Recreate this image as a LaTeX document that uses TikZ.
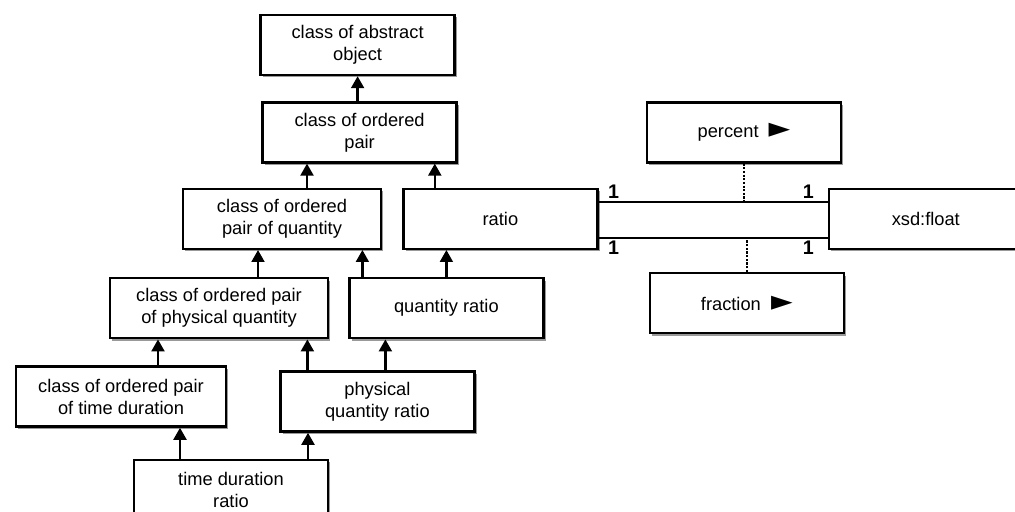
\documentclass[tikz,border=0pt]{standalone}
\usepackage{fontspec}
\setmainfont{Liberation Sans}
\newfontfamily\symbfont{DejaVu Sans}
\newcommand\pointer{{\fontsize{20}{20}\selectfont\symbfont ►}}
\usetikzlibrary{arrows.meta,positioning,shadows}

\begin{document}
\begin{tikzpicture}[
    font=\fontsize{13}{15.6}\selectfont,
    every node/.style = {align=center},
    cls/.style    = {draw, rectangle, line width=1.7pt, fill=white,
                     minimum width=48.5mm, minimum height=15mm, inner sep=2pt,
                     drop shadow={shadow xshift=0.6mm, shadow yshift=-0.6mm,
                                  fill=black!40, opacity=1}},
    arr/.style    = {-{Triangle[width=3.2mm,length=3mm]}, line width=1.8pt},
    assoc/.style  = {line width=1.2pt},
    link/.style   = {densely dotted, line width=1.6pt},
    mult/.style   = {font=\fontsize{14}{14}\selectfont\bfseries, inner sep=2pt},
]
\useasboundingbox (0,0) rectangle (253.75mm,-127.75mm);

% ---------------- Upper hierarchy ----------------
\node[cls] (absobj) at (89.4mm,-11.25mm) {class of abstract\\object};
\node[cls, below=6.25mm of absobj, xshift=0.5mm] (pair) {class of ordered\\pair};
\node[cls, below=6mm of pair, xshift=-19.4mm, minimum width=49.5mm] (pairqty) {class of ordered\\pair of quantity};
\node[cls, right=5mm of pairqty] (ratio) {ratio};

% ---------------- Middle rows ----------------
\node[cls, below=6.75mm of pairqty, xshift=-15.75mm, minimum width=54.5mm] (pairphys) {class of ordered pair\\of physical quantity};
\node[cls, right=4.75mm of pairphys] (qtyratio) {quantity ratio};
\node[cls, below=6.5mm of pairphys, xshift=-24.5mm, minimum width=52.5mm] (pairtime) {class of ordered pair\\of time duration};
\node[cls, below=7.75mm of qtyratio, xshift=-17.25mm] (physratio) {physical\\quantity ratio};
\node[cls, below=7.75mm of pairtime, xshift=27.5mm] (timeratio) {time duration\\ratio};

% ---------------- Right side ----------------
\node[cls, right=47mm of pair] (percent) {percent\ \ \pointer};
\node[cls, right=57.25mm of ratio] (xsdfloat) {xsd:float};
\node[cls, right=26mm of qtyratio, yshift=1.25mm] (fraction) {fraction\ \ \pointer};

% ---------------- Specialisation arrows ----------------
\draw[arr] (pair.north -| absobj) -- (absobj);
\draw[arr] ([xshift=6.25mm]pairqty.north) -- ([xshift=6.25mm]pairqty.north |- pair.south);
\draw[arr] ([xshift=-16.4mm]ratio.north) -- ([xshift=-16.4mm]ratio.north |- pair.south);
\draw[arr] ([xshift=9.75mm]pairphys.north) -- ([xshift=9.75mm]pairphys.north |- pairqty.south);
\draw[arr] ([xshift=-21mm]qtyratio.north) -- ([xshift=-21mm]qtyratio.north |- pairqty.south);
\draw[arr] (qtyratio.north) -- (qtyratio.north |- ratio.south);
\draw[arr] ([xshift=9.25mm]pairtime.north) -- ([xshift=9.25mm]pairtime.north |- pairphys.south);
\draw[arr] ([xshift=-17.5mm]physratio.north) -- ([xshift=-17.5mm]physratio.north |- pairphys.south);
\draw[arr] ([xshift=2mm]physratio.north) -- ([xshift=2mm]physratio.north |- qtyratio.south);
\draw[arr] ([xshift=-12.75mm]timeratio.north) -- ([xshift=-12.75mm]timeratio.north |- pairtime.south);
\draw[arr] ([xshift=19.25mm]timeratio.north) -- ([xshift=19.25mm]timeratio.north |- physratio.south);

% ---------------- Associations ratio -- xsd:float ----------------
\coordinate (ta) at ([yshift=4.25mm]ratio.east);
\coordinate (tb) at ([yshift=-4.75mm]ratio.east);
\draw[assoc] (ta) -- (ta -| xsdfloat.west)
    node[mult, pos=0, above right, xshift=1.5mm]{1}
    node[mult, pos=1, above left, xshift=-2.5mm]{1};
\draw[assoc] (tb) -- (tb -| xsdfloat.west)
    node[mult, pos=0, below right, xshift=1.5mm]{1}
    node[mult, pos=1, below left, xshift=-2.5mm]{1};
\draw[link] (percent.south) -- (percent.south |- ta);
\draw[link] (fraction.north) -- (fraction.north |- tb);

\end{tikzpicture}
\end{document}
